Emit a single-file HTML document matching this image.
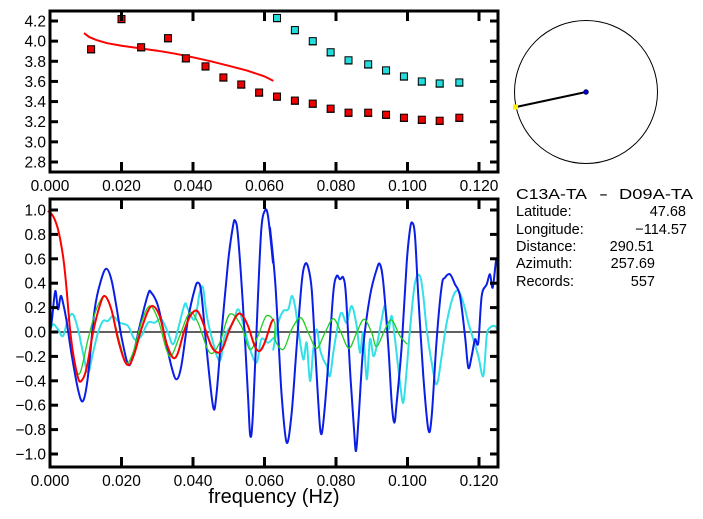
<!DOCTYPE html>
<html><head><meta charset="utf-8"><style>
html,body{margin:0;padding:0;background:#fff;}
svg{display:block;font-family:"Liberation Sans",sans-serif;}
</style></head><body>
<svg id="s" width="703" height="519" xmlns="http://www.w3.org/2000/svg">
<rect width="703" height="519" fill="#fff"/>
<g id="topg"></g>
<g id="botg"></g>
<circle cx="586" cy="92" r="71.5" fill="none" stroke="#000" stroke-width="1"/>
<line x1="586" y1="92" x2="516" y2="107" stroke="#000" stroke-width="2"/>
<circle cx="586" cy="92" r="2.5" fill="#0000cc" stroke="#000" stroke-width="0.5"/>
<rect x="513" y="104.5" width="5" height="5" fill="#ffee00"/>
<g font-size="14.5" fill="#000">
<text x="516" y="199" textLength="71" lengthAdjust="spacingAndGlyphs">C13A-TA</text>
<text x="599" y="199" textLength="9" lengthAdjust="spacingAndGlyphs">-</text>
<text x="619" y="199" textLength="74" lengthAdjust="spacingAndGlyphs">D09A-TA</text>
<text x="516" y="216">Latitude:</text><text x="686" y="216" text-anchor="end">47.68</text>
<text x="516" y="234">Longitude:</text><text x="687" y="234" text-anchor="end">−114.57</text>
<text x="516" y="251">Distance:</text><text x="654" y="251" text-anchor="end">290.51</text>
<text x="516" y="268">Azimuth:</text><text x="655" y="268" text-anchor="end">257.69</text>
<text x="516" y="286">Records:</text><text x="655" y="286" text-anchor="end">557</text>
</g>
<text x="274" y="503" font-size="20" text-anchor="middle">frequency (Hz)</text>
</svg>
<script>
(function(){
const NS="http://www.w3.org/2000/svg";
function el(p,t,a,txt){const e=document.createElementNS(NS,t);for(const k in a)e.setAttribute(k,a[k]);if(txt!=null)e.textContent=txt;p.appendChild(e);return e;}
const X0=50,X1=498,KX=3575;
const fx=v=>X0+v*KX;
function frame(g,yT,yB,yfn,yticks,fmt){
  el(g,"rect",{x:X0,y:yT,width:X1-X0,height:yB-yT,fill:"none",stroke:"#000","stroke-width":3});
  for(let i=0;i<=6;i++){const v=i*0.02,x=fx(v);
    el(g,"line",{x1:x,y1:yB,x2:x,y2:yB-10,stroke:"#000","stroke-width":3});
    el(g,"line",{x1:x,y1:yT,x2:x,y2:yT+10,stroke:"#000","stroke-width":3});
    el(g,"text",{x:x,y:yB+19,"font-size":15.5,"text-anchor":"middle"},v.toFixed(3));}
  for(const v of yticks){const y=yfn(v);
    el(g,"line",{x1:X0,y1:y,x2:X0+8,y2:y,stroke:"#000","stroke-width":3});
    el(g,"line",{x1:X1,y1:y,x2:X1-8,y2:y,stroke:"#000","stroke-width":3});
    el(g,"text",{x:46,y:y+5.5,"font-size":15.5,"text-anchor":"end"},fmt(v));}
}
const tg=document.getElementById("topg");
const ty=v=>21+(4.2-v)*(141/1.4);
const red=[[0.0115,3.92],[0.020,4.22],[0.0255,3.94],[0.033,4.03],[0.038,3.83],[0.0435,3.75],[0.0485,3.64],[0.0535,3.57],[0.0585,3.49],[0.0635,3.45],[0.0685,3.41],[0.0735,3.38],[0.0785,3.33],[0.0835,3.29],[0.089,3.29],[0.094,3.27],[0.099,3.24],[0.104,3.22],[0.109,3.21],[0.1145,3.24]];
const cyv=[[0.0635,4.23],[0.0685,4.11],[0.0735,4.00],[0.0785,3.89],[0.0835,3.81],[0.089,3.77],[0.094,3.71],[0.099,3.65],[0.104,3.60],[0.109,3.58],[0.1145,3.59]];
let d="";[[0.0095,4.08],[0.011,4.04],[0.013,4.01],[0.016,3.98],[0.02,3.955],[0.025,3.93],[0.03,3.905],[0.035,3.875],[0.04,3.84],[0.045,3.80],[0.05,3.755],[0.055,3.71],[0.06,3.65],[0.0625,3.605]].forEach((p,i)=>{d+=(i?"L":"M")+fx(p[0]).toFixed(1)+","+ty(p[1]).toFixed(1);});
el(tg,"path",{d:d,fill:"none",stroke:"#ff0000","stroke-width":2});
function sq(arr,col){for(const p of arr){const x=fx(p[0]),y=ty(p[1]);
  el(tg,"line",{x1:x-4,y1:y+3.5,x2:x+4,y2:y+3.5,stroke:"#000","stroke-width":1.5});
  el(tg,"rect",{x:x-3.5,y:y-3.5,width:7,height:7,fill:col,stroke:"#000","stroke-width":1});}}
sq(red,"#ee0000");sq(cyv,"#22dddd");
frame(tg,11,172,ty,[2.8,3.0,3.2,3.4,3.6,3.8,4.0,4.2],v=>v.toFixed(1));
const bg=document.getElementById("botg");
const by=v=>332-v*122;
function cr(pts){
  let s="M"+pts[0][0].toFixed(1)+","+pts[0][1].toFixed(1);
  for(let i=0;i<pts.length-1;i++){const p0=pts[Math.max(0,i-1)],p1=pts[i],p2=pts[i+1],p3=pts[Math.min(pts.length-1,i+2)];
    const c1=[p1[0]+(p2[0]-p0[0])/6,p1[1]+(p2[1]-p0[1])/6],c2=[p2[0]-(p3[0]-p1[0])/6,p2[1]-(p3[1]-p1[1])/6];
    s+="C"+c1[0].toFixed(1)+","+c1[1].toFixed(1)+" "+c2[0].toFixed(1)+","+c2[1].toFixed(1)+" "+p2[0].toFixed(1)+","+p2[1].toFixed(1);}
  return s;}
const z4=a=>a.map(p=>[48+p[0]/3,196+p[1]/3]), z5=a=>a.map(p=>[270+p[0]/3,196+p[1]/3]);
el(bg,"line",{x1:X0,y1:332,x2:X1,y2:332,stroke:"#000","stroke-width":1.2});
const blue=z4([[6,410],[12,370],[22,285],[30,340],[38,300],[45,320],[55,370],[70,470],[90,580],[105,615],[120,540],[140,340],[160,250],[175,218],[190,250],[205,330],[220,420],[240,505],[255,480],[275,390],[300,295],[310,290],[330,330],[350,420],[370,510],[385,550],[400,510],[420,370],[440,280],[450,260],[460,290],[475,450],[495,630],[505,600],[520,420],[540,200],[555,90],[562,75],[570,120],[585,330],[600,600],[607,720],[615,650],[630,300],[640,100],[650,45],[660,60],[675,200]]).concat(z5([[0,95],[15,250],[25,420],[35,600],[50,740],[65,650],[80,450],[95,260],[105,205],[115,215],[125,280],[135,450],[145,620],[152,710],[160,680],[175,500],[190,290],[200,240],[210,250],[220,245],[228,300],[240,520],[252,700],[258,765],[265,680],[280,450],[300,300],[320,220],[330,205],[340,260],[355,450],[365,620],[373,680],[380,620],[395,450],[410,200],[420,100],[427,80],[435,120],[445,300],[460,540],[475,700],[485,660],[500,430],[515,270],[525,245],[540,235],[555,265],[570,300],[585,420],[595,515],[605,480],[615,430],[625,440],[635,300],[650,265],[660,235],[668,275],[678,195],[684,185]]));
const cyan=z4([[5,410],[15,385],[30,400],[45,420],[60,370],[75,355],[90,400],[105,470],[120,530],[135,470],[150,410],[165,375],[180,375],[195,360],[215,380],[240,390],[260,430],[280,420],[300,380],[320,380],[340,370],[360,410],[375,445],[390,400],[410,325],[420,340],[440,370],[455,290],[465,275],[475,350],[490,420],[515,495],[530,420],[555,380],[570,340],[585,380],[600,440],[625,500],[640,430],[660,440],[680,425]]).concat(z5([[10,460],[25,380],[40,345],[55,340],[65,300],[75,330],[85,400],[100,490],[110,440],[120,555],[130,460],[140,400],[150,460],[160,490],[170,510],[180,540],[190,470],[205,380],[215,350],[230,380],[245,330],[260,390],[270,470],[280,410],[290,550],[300,430],[310,480],[320,450],[335,370],[345,330],[355,400],[365,360],[375,430],[390,560],[400,620],[410,520],[420,400],[435,260],[450,240],[460,300],[470,400],[485,500],[500,565],[515,480],[530,380],[550,300],[565,285],[580,320],[595,380],[610,430],[625,480],[640,540],[650,420],[660,395],[675,390],[684,405]]));
const green=z4([[0,45],[15,60],[30,100],[45,180],[55,270],[65,390],[75,470],[88,530],[100,520],[120,430],[145,340],[170,300],[190,340],[215,440],[235,500],[255,470],[280,380],[305,330],[330,370],[355,460],[370,480],[395,420],[425,350],[450,380],[485,470],[515,440],[545,355],[580,390],[605,460],[630,420],[655,360],[680,380]]).concat(z5([[15,430],[40,460],[65,400],[92,365],[115,410],[140,457],[165,410],[190,368],[213,410],[237,457],[260,410],[282,370],[305,410],[320,452],[345,400],[365,372],[390,420],[412,445]]));
const redc=z4([[0,45],[15,60],[30,100],[45,180],[55,270],[65,390],[75,470],[90,545],[100,555],[115,520],[135,410],[155,330],[170,300],[190,340],[210,430],[230,495],[245,505],[260,470],[280,400],[300,345],[315,330],[335,360],[355,440],[375,485],[390,470],[410,400],[430,355],[448,345],[465,380],[490,450],[510,470],[525,455],[545,400],[565,360],[580,355],[600,390],[620,450],[635,465],[650,440],[670,380],[678,370]]);
el(bg,"path",{d:cr(cyan),fill:"none",stroke:"#33e0e8","stroke-width":2});
el(bg,"path",{d:cr(blue),fill:"none",stroke:"#0a1ee6","stroke-width":2});
el(bg,"path",{d:cr(green),fill:"none",stroke:"#22cc22","stroke-width":1.3});
el(bg,"path",{d:cr(redc),fill:"none",stroke:"#ff0000","stroke-width":2});
const yt=[];for(let i=-5;i<=5;i++)yt.push(i*0.2);
frame(bg,199,467,by,yt,v=>(Math.abs(v)<1e-9?"0.0":(v<0?"−":"")+Math.abs(v).toFixed(1)));
})();
</script>
</body></html>
